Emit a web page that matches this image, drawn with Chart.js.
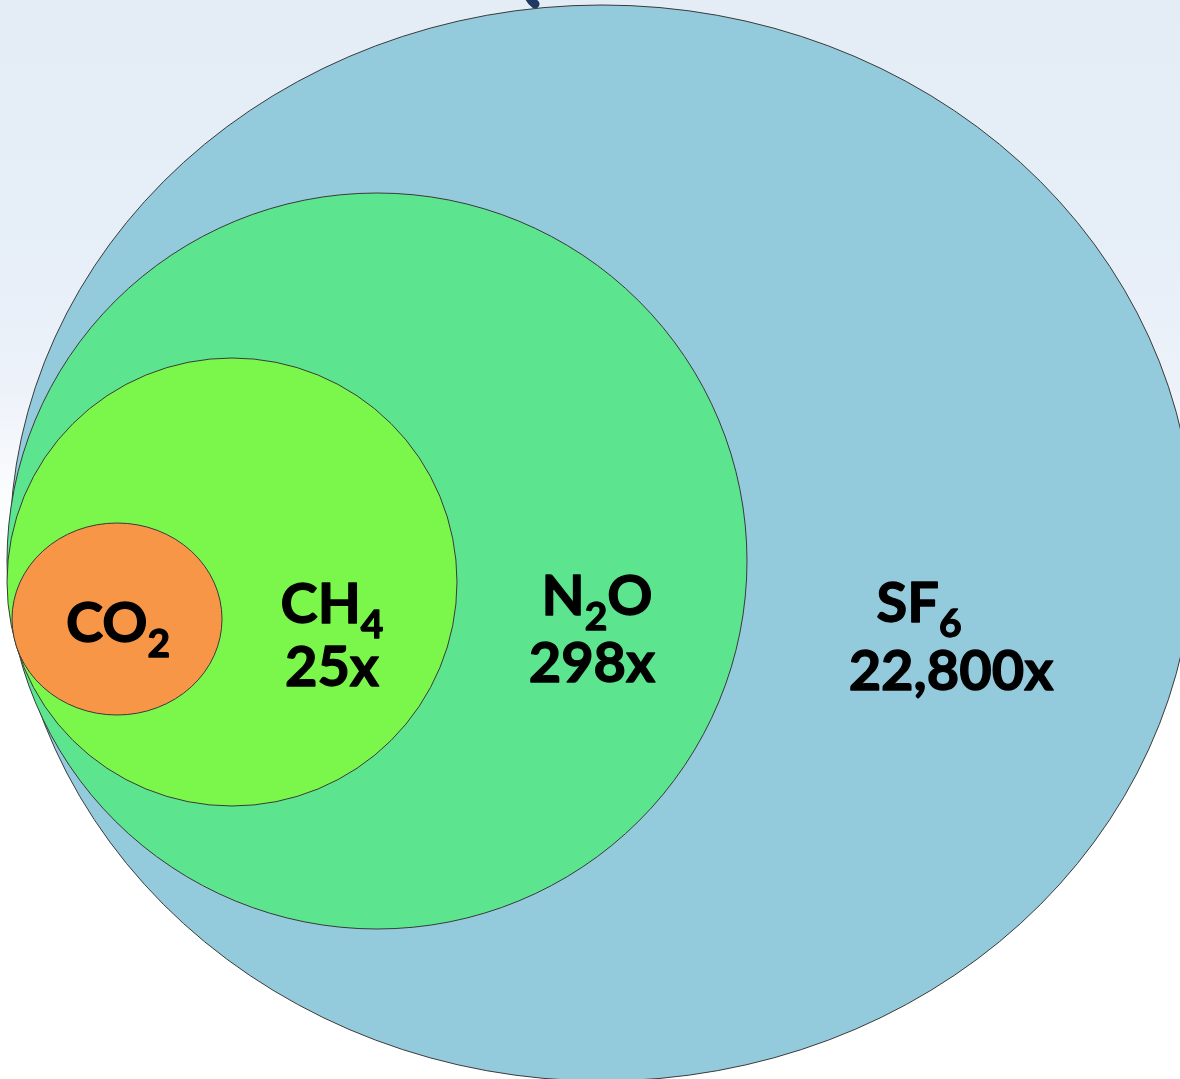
<!DOCTYPE html>
<html>
<head>
<meta charset="utf-8">
<script src="https://cdn.jsdelivr.net/npm/chart.js"></script>
<style>
  html, body { margin: 0; padding: 0; background: #ffffff; }
  #wrap { width: 1180px; height: 1079px; position: relative; }
</style>
</head>
<body>
<div id="wrap"><canvas id="gwpChart"></canvas></div>
<script>
// gases, largest potential first so the smaller ones sit on top
const gases = ['SF6', 'N2O', 'CH4', 'CO2'];
const gwpValues = [22800, 298, 25, 1];
const fillColors = ['#93cbdc', '#5ce48f', '#7bf74b', '#f79646'];

// ellipse centre and radii in axis units (axes run 0..1180 by 0..1079)
const ellipseX = [602, 377, 232, 117];
const ellipseY = [543, 561, 582, 619];
const ellipseRx = [592, 370, 225, 105];
const ellipseRy = [538, 368, 224, 96];

// where each name and multiplier line is centred (axis units, baseline y)
const nameX = [919, 597, 332, 118];
const nameY = [622, 615, 623, 642];
const valueX = [951, 592, 332, 118];
const valueY = [690, 682, 686, 706];

const FONT = 'Lato, "Open Sans", sans-serif';
const MAIN_SIZE = 56;
const SUB_SIZE = 39;
const SUB_DROP = 15;
const INK_WEIGHT = 1.3; // extra outline so the bold face reads heavier

const backgroundPlugin = {
  id: 'slideBackground',
  beforeDraw(chart) {
    const { ctx, width, height } = chart;
    const g = ctx.createLinearGradient(0, 0, 0, height);
    g.addColorStop(0, '#e4ecf6');
    g.addColorStop(0.22, '#e6eef8');
    g.addColorStop(0.36, '#edf2f9');
    g.addColorStop(0.44, '#f8fafd');
    g.addColorStop(0.5, '#ffffff');
    g.addColorStop(1, '#ffffff');
    ctx.save();
    ctx.fillStyle = g;
    ctx.fillRect(0, 0, width, height);
    // tail of the heading's bracket, cut off by the top edge
    ctx.strokeStyle = '#1f3864';
    ctx.lineWidth = 9;
    ctx.lineCap = 'round';
    ctx.beginPath();
    ctx.moveTo(527, -10);
    ctx.quadraticCurveTo(529, 0, 535, 4);
    ctx.stroke();
    ctx.restore();
  }
};

const ellipsePlugin = {
  id: 'ellipses',
  beforeDatasetsDraw(chart) {
    const { ctx } = chart;
    const xs = chart.scales.x, ys = chart.scales.y;
    ctx.save();
    chart.data.datasets.forEach((ds) => {
      const p = ds.data[0];
      const cx = xs.getPixelForValue(p.x);
      const cy = ys.getPixelForValue(p.y);
      const rx = Math.abs(xs.getPixelForValue(p.x + p.rx) - cx);
      const ry = Math.abs(ys.getPixelForValue(p.y + p.ry) - cy);
      ctx.beginPath();
      ctx.ellipse(cx, cy, rx, ry, 0, 0, Math.PI * 2);
      ctx.fillStyle = ds.backgroundColor;
      ctx.fill();
      ctx.lineWidth = 1;
      ctx.strokeStyle = '#3a3a3a';
      ctx.stroke();
    });
    ctx.restore();
  }
};

function inkText(ctx, s, x, y) {
  ctx.fillText(s, x, y);
  ctx.strokeText(s, x, y);
}

// chemical formula with the digits set as subscripts
function drawFormula(ctx, text, cx, baseline) {
  const parts = text.split(/(\d+)/).filter(s => s.length);
  const mainFont = 'bold ' + MAIN_SIZE + 'px ' + FONT;
  const subFont = 'bold ' + SUB_SIZE + 'px ' + FONT;
  let total = 0;
  parts.forEach(s => {
    ctx.font = /\d/.test(s) ? subFont : mainFont;
    total += ctx.measureText(s).width;
  });
  let x = cx - total / 2;
  parts.forEach(s => {
    const sub = /\d/.test(s);
    ctx.font = sub ? subFont : mainFont;
    inkText(ctx, s, x, baseline + (sub ? SUB_DROP : 0));
    x += ctx.measureText(s).width;
  });
}

const labelPlugin = {
  id: 'gasLabels',
  afterDatasetsDraw(chart) {
    const { ctx } = chart;
    const xs = chart.scales.x, ys = chart.scales.y;
    ctx.save();
    ctx.fillStyle = '#000000';
    ctx.strokeStyle = '#000000';
    ctx.lineWidth = INK_WEIGHT;
    ctx.lineJoin = 'round';
    ctx.textAlign = 'left';
    ctx.textBaseline = 'alphabetic';
    gases.forEach((g, i) => {
      drawFormula(ctx, g, xs.getPixelForValue(nameX[i]), ys.getPixelForValue(nameY[i]));
      if (gwpValues[i] > 1) {
        const txt = gwpValues[i].toLocaleString('en-US') + 'x';
        ctx.font = 'bold ' + MAIN_SIZE + 'px ' + FONT;
        ctx.textAlign = 'center';
        inkText(ctx, txt, xs.getPixelForValue(valueX[i]), ys.getPixelForValue(valueY[i]));
        ctx.textAlign = 'left';
      }
    });
    ctx.restore();
  }
};

new Chart(document.getElementById('gwpChart'), {
  type: 'scatter',
  data: {
    datasets: gases.map((g, i) => ({
      label: g,
      data: [{ x: ellipseX[i], y: ellipseY[i], rx: ellipseRx[i], ry: ellipseRy[i] }],
      backgroundColor: fillColors[i],
      pointRadius: 0,
      pointHoverRadius: 0
    }))
  },
  options: {
    responsive: true,
    maintainAspectRatio: false,
    animation: false,
    layout: { padding: 0 },
    events: [],
    scales: {
      x: { type: 'linear', min: 0, max: 1180, display: false },
      y: { type: 'linear', min: 0, max: 1079, reverse: true, display: false }
    },
    plugins: {
      legend: { display: false },
      tooltip: { enabled: false }
    }
  },
  plugins: [backgroundPlugin, ellipsePlugin, labelPlugin]
});
</script>
</body>
</html>
